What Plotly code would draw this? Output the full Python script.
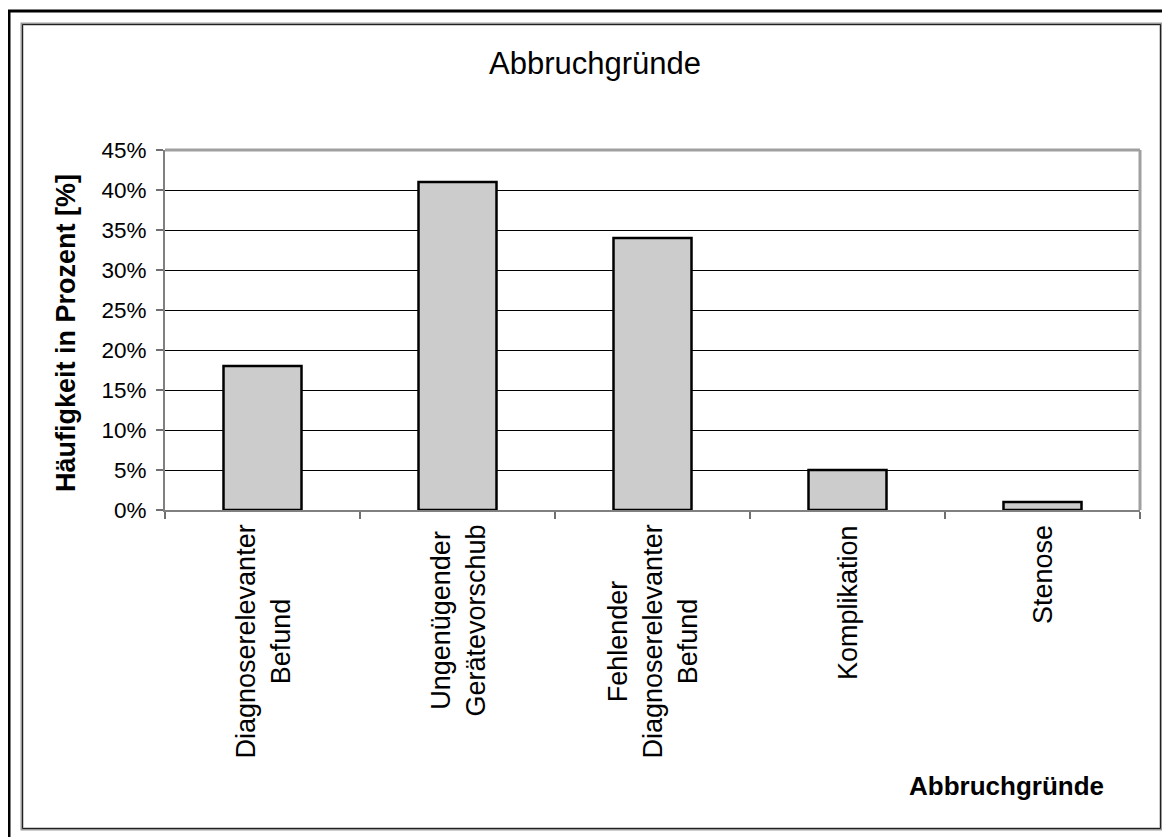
import plotly.graph_objects as go

categories = ["Diagnoserelevanter<br>Befund", "Ungenügender<br>Gerätevorschub",
              "Fehlender<br>Diagnoserelevanter<br>Befund", "Komplikation", "Stenose"]
values = [0.18, 0.41, 0.34, 0.05, 0.01]
chart_title = "Abbruchgründe"
x_title = "Abbruchgründe"
y_title = "Häufigkeit in Prozent [%]"

OFF = 8  # page body margin
W, H = 1170 - OFF, 837 - OFF
L, R, T, B = 165, 1140, 150, 510  # plot area in page pixels
FONT = "Liberation Sans, Arial, sans-serif"

def px(x):
    return (x - L) / (R - L)

def py(y):
    return (B - y) / (B - T)

fig = go.Figure()
fig.add_trace(go.Bar(
    x=list(range(len(categories))), y=values, width=0.4,
    marker=dict(color="#CCCCCC", line=dict(color="black", width=2.5)),
    hoverinfo="y",
))

annotations = [
    dict(text=chart_title, x=px(595), y=py(64), xref="paper", yref="paper",
         showarrow=False, font=dict(size=31, color="black", family=FONT),
         xanchor="center", yanchor="middle"),
    dict(text="<b>" + x_title + "</b>", x=px(1006), y=py(786), xref="paper", yref="paper",
         showarrow=False, font=dict(size=26, color="black", family=FONT),
         xanchor="center", yanchor="middle"),
    dict(text="<b>" + y_title + "</b>", x=px(66), y=py(333), xref="paper", yref="paper",
         showarrow=False, textangle=-90, font=dict(size=27, color="black", family=FONT),
         xanchor="center", yanchor="middle"),
]
for i, c in enumerate(categories):
    annotations.append(dict(
        text=c, x=i, y=py(523), xref="x", yref="paper", showarrow=False,
        textangle=-90, align="center", xanchor="center", yanchor="top",
        font=dict(size=27, color="black", family=FONT)))

shapes = [
    dict(type="rect", xref="paper", yref="paper", x0=px(9), x1=px(1200), y0=py(11), y1=py(860),
         line=dict(color="black", width=3), layer="below"),
    dict(type="rect", xref="paper", yref="paper", x0=px(22), x1=px(1161), y0=py(24), y1=py(829),
         line=dict(color="#9A9A9A", width=3), layer="below"),
    dict(type="rect", xref="paper", yref="paper", x0=px(22.5), x1=px(1160.5), y0=py(24.5), y1=py(828.5),
         line=dict(color="#202020", width=1), layer="below"),
]

fig.update_layout(
    width=W, height=H,
    margin=dict(l=L - OFF, r=W - (R - OFF), t=T - OFF, b=H - (B - OFF), pad=0),
    paper_bgcolor="white", plot_bgcolor="white",
    showlegend=False,
    font=dict(family=FONT, color="black"),
    annotations=annotations, shapes=shapes,
)
fig.update_xaxes(
    type="linear", range=[-0.5, len(categories) - 0.5],
    tickmode="array", tickvals=[i - 0.5 for i in range(len(categories) + 1)],
    showticklabels=False, ticks="outside", ticklen=7, tickcolor="#707070", tickwidth=1.5,
    showgrid=False, zeroline=False,
    showline=True, linecolor="#808080", linewidth=2, mirror=False,
)
fig.update_yaxes(
    range=[0, 0.45], dtick=0.05, tick0=0, tickformat=".0%",
    ticks="outside", ticklen=7, tickcolor="#707070", tickwidth=1.5,
    tickfont=dict(size=22.5, color="black", family=FONT), ticklabelstandoff=5,
    showgrid=True, gridcolor="black", gridwidth=1, zeroline=False,
    showline=True, linecolor="#808080", linewidth=2,
)
fig.add_shape(type="line", xref="paper", yref="paper", x0=0, x1=1, y0=1, y1=1,
              line=dict(color="#A0A0A0", width=3))
fig.add_shape(type="line", xref="paper", yref="paper", x0=1, x1=1, y0=0, y1=1,
              line=dict(color="#A0A0A0", width=3))

fig.write_html("out.html")
